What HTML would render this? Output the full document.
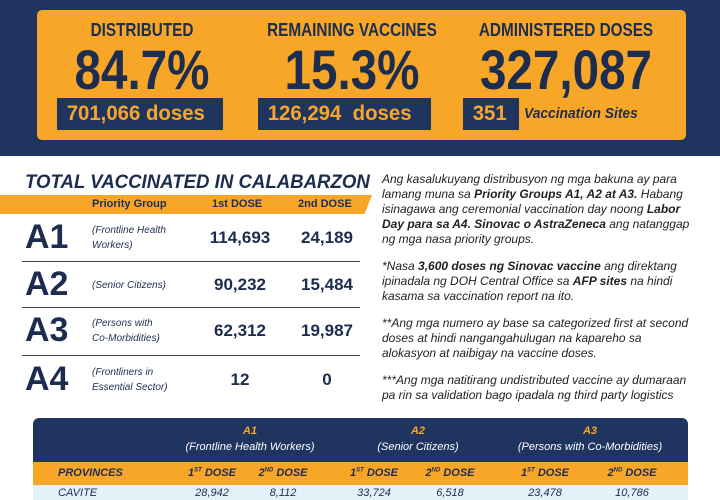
<!DOCTYPE html>
<html><head><meta charset="utf-8"><style>
*{margin:0;padding:0;box-sizing:border-box}
body{width:720px;height:500px;overflow:hidden;background:#fff;font-family:"Liberation Sans",sans-serif;color:#1d2d50;position:relative}
.abs{position:absolute}
.hdr{left:0;top:0;width:720px;height:156px;background:#1f3560}
.obox{left:37px;top:10px;width:649px;height:130px;background:#f8a628;border-radius:5px}
.lbl{font-weight:bold;font-size:18px;text-align:center;transform:scaleX(.85);white-space:nowrap;width:240px}
.big{font-weight:bold;font-size:56px;text-align:center;transform:scaleX(.85);white-space:nowrap;width:260px;line-height:58px}
.db{background:#1f3560;color:#f8a628;font-weight:bold;font-size:21px;line-height:32px;height:32px;white-space:nowrap;overflow:hidden}
.db span{display:inline-block;transform:scaleX(.97);transform-origin:left;padding-left:10px}
.title{left:25px;top:172px;font-size:19px;font-weight:bold;font-style:italic;color:#1d2d50;white-space:nowrap;transform:scaleX(.98);transform-origin:left}
.band{left:0;top:195px;width:372px;height:19px;background:#f8a628;clip-path:polygon(0 0,100% 0,98% 100%,0 100%)}
.th{font-size:11px;font-weight:bold;top:198px}
.row{left:22px;width:338px;border-bottom:1px solid #444}
.ag{font-size:34px;font-weight:900;left:25px}
.desc{font-size:10px;font-style:italic;left:92px;line-height:15px}
.n{font-size:17px;font-weight:bold;width:90px;text-align:center}
.notes{left:382px;top:172px;width:336px;font-size:12px;font-style:italic;line-height:15px;color:#222;white-space:nowrap}
.notes p{margin-bottom:12px}
.bt{left:33px;top:418px;width:655px;height:44px;background:#1f3560;border-radius:6px 6px 0 0}
.bo{left:33px;top:462px;width:655px;height:23px;background:#f8a628}
.bl{left:33px;top:485px;width:655px;height:15px;background:#e4f1f8}
.gh{color:#f8a628;font-weight:bold;font-style:italic;font-size:11px;text-align:center;width:160px}
.gs{color:#fff;font-style:italic;font-size:11px;text-align:center;width:180px}
.c{font-size:11px;font-style:italic;font-weight:bold;text-align:center;width:80px}
</style></head><body>
<div class="abs hdr"></div>
<div class="abs obox"></div>
<div class="abs lbl" style="left:22px;top:20px">DISTRIBUTED</div>
<div class="abs lbl" style="left:232px;top:20px">REMAINING VACCINES</div>
<div class="abs lbl" style="left:446px;top:20px">ADMINISTERED DOSES</div>
<div class="abs big" style="left:12px;top:41px">84.7%</div>
<div class="abs big" style="left:222px;top:41px">15.3%</div>
<div class="abs big" style="left:436px;top:41px">327,087</div>
<div class="abs db" style="left:57px;top:98px;width:166px"><span>701,066 doses</span></div>
<div class="abs db" style="left:258px;top:98px;width:173px"><span>126,294&nbsp; doses</span></div>
<div class="abs db" style="left:463px;top:98px;width:56px"><span>351</span></div>
<div class="abs" style="left:524px;top:105px;font-size:15px;font-weight:bold;font-style:italic;white-space:nowrap;transform:scaleX(.92);transform-origin:left">Vaccination Sites</div>

<div class="abs title">TOTAL VACCINATED IN CALABARZON</div>
<div class="abs band"></div>
<div class="abs th" style="left:92px">Priority Group</div>
<div class="abs th" style="left:212px">1st DOSE</div>
<div class="abs th" style="left:298px">2nd DOSE</div>

<div class="abs row" style="top:215px;height:47px"></div>
<div class="abs row" style="top:262px;height:46px"></div>
<div class="abs row" style="top:308px;height:48px"></div>

<div class="abs ag" style="top:218px">A1</div>
<div class="abs desc" style="top:223px">(Frontline Health<br>Workers)</div>
<div class="abs n" style="left:195px;top:228px">114,693</div>
<div class="abs n" style="left:282px;top:228px">24,189</div>

<div class="abs ag" style="top:265px">A2</div>
<div class="abs desc" style="top:278px">(Senior Citizens)</div>
<div class="abs n" style="left:195px;top:275px">90,232</div>
<div class="abs n" style="left:282px;top:275px">15,484</div>

<div class="abs ag" style="top:311px">A3</div>
<div class="abs desc" style="top:316px">(Persons with<br>Co-Morbidities)</div>
<div class="abs n" style="left:195px;top:321px">62,312</div>
<div class="abs n" style="left:282px;top:321px">19,987</div>

<div class="abs ag" style="top:360px">A4</div>
<div class="abs desc" style="top:365px">(Frontliners in<br>Essential Sector)</div>
<div class="abs n" style="left:195px;top:370px">12</div>
<div class="abs n" style="left:282px;top:370px">0</div>

<div class="abs notes">
<p>Ang kasalukuyang distribusyon ng mga bakuna ay para<br>lamang muna sa <b>Priority Groups A1, A2 at A3.</b> Habang<br>isinagawa ang ceremonial vaccination day noong <b>Labor</b><br><b>Day para sa A4. Sinovac o AstraZeneca</b> ang natanggap<br>ng mga nasa priority groups.</p>
<p>*Nasa <b>3,600 doses ng Sinovac vaccine</b> ang direktang<br>ipinadala ng DOH Central Office sa <b>AFP sites</b> na hindi<br>kasama sa vaccination report na ito.</p>
<p>**Ang mga numero ay base sa categorized first at second<br>doses at hindi nangangahulugan na kapareho sa<br>alokasyon at naibigay na vaccine doses.</p>
<p>***Ang mga natitirang undistributed vaccine ay dumaraan<br>pa rin sa validation bago ipadala ng third party logistics</p>
</div>

<div class="abs bt"></div>
<div class="abs bo"></div>
<div class="abs bl"></div>
<div class="abs gh" style="left:170px;top:425px">A1</div>
<div class="abs gs" style="left:160px;top:441px">(Frontline Health Workers)</div>
<div class="abs gh" style="left:338px;top:425px">A2</div>
<div class="abs gs" style="left:328px;top:441px">(Senior Citizens)</div>
<div class="abs gh" style="left:510px;top:425px">A3</div>
<div class="abs gs" style="left:500px;top:441px">(Persons with Co-Morbidities)</div>
<div class="abs c" style="left:58px;top:467px;text-align:left">PROVINCES</div>
<div class="abs c" style="left:172px;top:467px">1<sup style="font-size:6px">ST</sup> DOSE</div>
<div class="abs c" style="left:243px;top:467px">2<sup style="font-size:6px">ND</sup> DOSE</div>
<div class="abs c" style="left:334px;top:467px">1<sup style="font-size:6px">ST</sup> DOSE</div>
<div class="abs c" style="left:410px;top:467px">2<sup style="font-size:6px">ND</sup> DOSE</div>
<div class="abs c" style="left:505px;top:467px">1<sup style="font-size:6px">ST</sup> DOSE</div>
<div class="abs c" style="left:592px;top:467px">2<sup style="font-size:6px">ND</sup> DOSE</div>
<div class="abs c" style="left:58px;top:487px;text-align:left;font-weight:normal">CAVITE</div>
<div class="abs c" style="left:172px;top:487px;font-weight:normal">28,942</div>
<div class="abs c" style="left:243px;top:487px;font-weight:normal">8,112</div>
<div class="abs c" style="left:334px;top:487px;font-weight:normal">33,724</div>
<div class="abs c" style="left:410px;top:487px;font-weight:normal">6,518</div>
<div class="abs c" style="left:505px;top:487px;font-weight:normal">23,478</div>
<div class="abs c" style="left:592px;top:487px;font-weight:normal">10,786</div>
</body></html>
